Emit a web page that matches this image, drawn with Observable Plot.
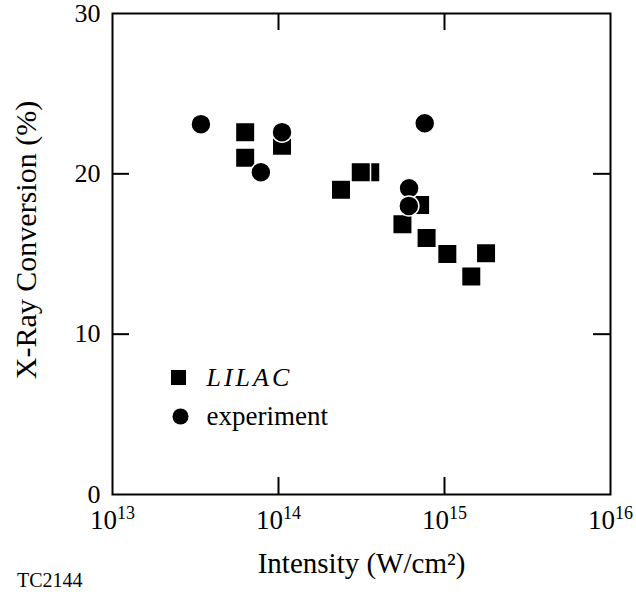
<!DOCTYPE html>
<html><head><meta charset="utf-8">
<script src="https://cdn.jsdelivr.net/npm/d3@7"></script>
<script src="https://cdn.jsdelivr.net/npm/@observablehq/plot@0.6"></script>
<style>
body{margin:0;background:#fff;}
#wrap{position:relative;width:636px;height:594px;font-family:"Liberation Serif",serif;}
#caption{position:absolute;left:17px;top:570px;font-size:20px;line-height:20px;color:#000;}
</style></head><body>
<div id="wrap"><div id="chart"></div><div id="caption">TC2144</div></div>
<script>
// LILAC simulation points (order matters: later points drawn on top)
const lilacIntensity = [6.3e13, 6.3e13, 1.05e14, 2.38e14, 3.57e14, 3.13e14, 5.58e14, 7.13e14, 7.8e14, 1.04e15, 1.78e15, 1.45e15];
const lilacConversion = [22.6, 21.0, 21.75, 19.0, 20.1, 20.1, 16.85, 18.05, 16.0, 15.0, 15.05, 13.6];
// Experimental points
const expIntensity = [3.41e13, 7.83e13, 1.05e14, 6.12e14, 6.1e14, 7.6e14];
const expConversion = [23.1, 20.1, 22.6, 19.1, 18.0, 23.15];

const xTicks = [1e13, 1e14, 1e15, 1e16];
const yTicks = [0, 10, 20, 30];
const innerXTicks = [1e14, 1e15];
const innerYTicks = [10, 20];
const legendLabels = ["LILAC", "experiment"];
const xLabel = "Intensity (W/cm²)";
const yLabel = "X-Ray Conversion (%)";

const lilac = lilacIntensity.map((x, i) => ({x, y: lilacConversion[i]}));
const experiment = expIntensity.map((x, i) => ({x, y: expConversion[i]}));

const W = 636, H = 594, mL = 112, mR = 26, mT = 13, mB = 100;
const innerW = W - mL - mR, innerH = H - mT - mB, tickLen = 17;

const chart = Plot.plot({
  width: W, height: H,
  marginLeft: mL, marginRight: mR, marginTop: mT, marginBottom: mB,
  style: {fontFamily: '"Liberation Serif", serif', color: "#000", background: "#fff", overflow: "visible"},
  x: {type: "log", domain: [1e13, 1e16]},
  y: {domain: [0, 30]},
  marks: [
    Plot.axisX(xTicks, {tickSize: 0, tickPadding: 15, fontSize: 27, label: null,
      tickFormat: d => "10^" + Math.round(Math.log10(d))}),
    Plot.axisY(yTicks, {tickSize: 0, tickPadding: 12, fontSize: 26, label: null}),
    Plot.ruleX(innerXTicks, {x: d => d, insetTop: innerH - tickLen, strokeWidth: 2}),
    Plot.ruleX(innerXTicks, {x: d => d, insetBottom: innerH - tickLen, strokeWidth: 2}),
    Plot.ruleY(innerYTicks, {y: d => d, insetRight: innerW - tickLen, strokeWidth: 2}),
    Plot.ruleY(innerYTicks, {y: d => d, insetLeft: innerW - tickLen, strokeWidth: 2}),
    Plot.frame({stroke: "#000", strokeWidth: 2}),
    Plot.dot(lilac, {x: "x", y: "y", symbol: "square", r: 11, fill: "#000", stroke: "#fff", strokeWidth: 1.5}),
    Plot.dot(experiment, {x: "x", y: "y", symbol: "circle", r: 10, fill: "#000", stroke: "#fff", strokeWidth: 1.5}),
    // legend
    Plot.dot([legendLabels[0]], {frameAnchor: "bottom-left", dx: 66, dy: -117, symbol: "square", r: 8.5, fill: "#000"}),
    Plot.dot([legendLabels[1]], {frameAnchor: "bottom-left", dx: 68, dy: -78, symbol: "circle", r: 8, fill: "#000"}),
    Plot.text([legendLabels[0]], {text: d => d, frameAnchor: "bottom-left", dx: 94, dy: -117, textAnchor: "start", lineAnchor: "middle", fontSize: 26, fontStyle: "italic", fill: "#000"}),
    Plot.text([legendLabels[1]], {text: d => d, frameAnchor: "bottom-left", dx: 94, dy: -78, textAnchor: "start", lineAnchor: "middle", fontSize: 27, fill: "#000"}),
    // axis titles
    Plot.text([xLabel], {text: d => d, frameAnchor: "bottom", dy: 78, textAnchor: "middle", lineAnchor: "bottom", fontSize: 29, fill: "#000"}),
    Plot.text([yLabel], {text: d => d, frameAnchor: "left", dx: -86, dy: -14, rotate: -90, textAnchor: "middle", lineAnchor: "middle", fontSize: 30, fill: "#000"})
  ]
});
document.getElementById("chart").appendChild(chart);

// superscript exponents on x tick labels
chart.querySelectorAll('g[aria-label="x-axis tick label"] text').forEach(t => {
  const s = t.textContent;
  if (!s.includes("^")) return;
  const [base, exp] = s.split("^");
  t.textContent = "";
  t.appendChild(document.createTextNode(base));
  const ts = document.createElementNS("http://www.w3.org/2000/svg", "tspan");
  ts.setAttribute("dy", "-10");
  ts.setAttribute("font-size", "18");
  ts.textContent = exp;
  t.appendChild(ts);
});
chart.querySelectorAll("text").forEach(t => {
  if (t.textContent === "LILAC") t.setAttribute("letter-spacing", "3");
});
</script>
</body></html>
